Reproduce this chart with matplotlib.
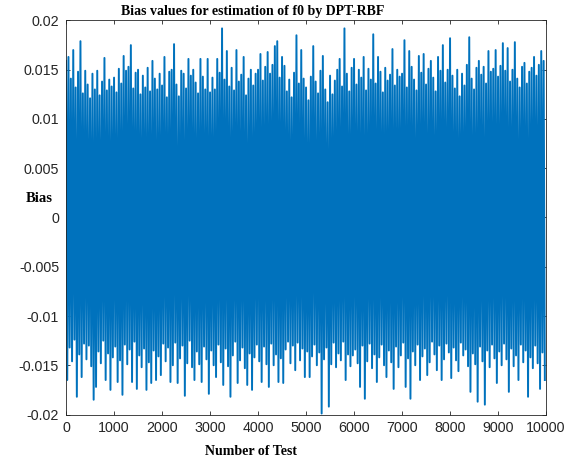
import numpy as np
import matplotlib
matplotlib.use("Agg")
import matplotlib.pyplot as plt

# -----------------------------------------------------
# Bias data (in units of 1e-3), sampled every 50 tests:
# positive swings and negative swings of the estimator
# -----------------------------------------------------

bias_high = [
    15.9, 16.3, 14.1, 17.0, 13.2, 14.8, 17.9, 12.6, 14.9, 13.5, 12.1, 14.6, 13.0, 14.9, 12.4, 13.8, 16.2, 12.9, 14.0, 13.3,
    14.2, 12.7, 15.1, 13.6, 16.4, 14.9, 15.3, 17.5, 13.1, 14.7, 15.0, 12.5, 14.4, 13.2, 15.2, 12.8, 15.9, 14.1, 13.0, 14.6,
    13.4, 16.3, 12.2, 14.8, 15.0, 17.6, 13.5, 12.3, 14.9, 14.6, 13.1, 16.1, 14.4, 15.0, 13.7, 12.6, 16.1, 14.3, 13.0, 16.1,
    12.7, 14.2, 13.0, 16.1, 14.7, 19.2, 14.0, 16.9, 13.3, 15.2, 12.9, 17.0, 13.8, 14.5, 16.3, 12.4, 14.1, 15.0, 13.4, 14.6,
    15.0, 16.6, 13.9, 15.3, 16.8, 14.6, 15.5, 17.4, 17.9, 14.2, 16.3, 15.4, 12.8, 14.0, 12.2, 14.7, 18.5, 13.6, 17.0, 14.1,
    13.2, 11.9, 14.3, 17.4, 13.8, 12.6, 14.9, 16.4, 13.0, 11.7, 14.4, 12.5, 13.9, 15.0, 16.1, 13.3, 19.2, 14.6, 12.8, 15.2,
    16.1, 13.5, 15.0, 14.2, 16.3, 12.9, 15.1, 14.0, 18.6, 13.6, 16.3, 14.8, 12.7, 15.2, 13.9, 14.5, 17.1, 13.4, 15.0, 14.3,
    14.6, 18.0, 13.2, 16.9, 15.3, 14.0, 12.9, 16.4, 14.7, 16.6, 13.5, 15.1, 15.9, 14.2, 12.8, 16.3, 14.9, 17.5, 13.7, 15.0,
    18.2, 14.4, 13.1, 15.0, 12.3, 14.6, 13.4, 15.5, 18.3, 14.1, 13.0, 15.2, 15.9, 14.5, 15.3, 13.6, 16.9, 14.8, 15.1, 17.0,
    14.3, 15.4, 17.7, 14.9, 17.2, 13.8, 15.0, 17.8, 14.1, 13.2, 15.3, 15.7, 13.6, 14.8, 15.2, 16.3, 14.4, 15.5, 16.9, 15.9,
]

bias_low = [
    -16.5, -13.2, -14.6, -12.4, -18.2, -13.9, -16.2, -12.8, -14.4, -13.0, -15.1, -18.5, -17.2, -13.6, -14.8, -12.5, -16.5, -13.8, -17.5, -14.2,
    -13.1, -16.7, -14.5, -18.0, -12.9, -14.9, -13.4, -16.7, -12.6, -17.4, -14.0, -15.2, -13.3, -17.5, -14.7, -16.8, -13.5, -16.5, -14.1, -16.0,
    -12.8, -14.6, -13.2, -16.7, -15.0, -12.7, -16.8, -14.3, -13.0, -18.1, -14.8, -12.5, -15.2, -16.5, -13.6, -14.9, -16.7, -13.1, -14.4, -17.9,
    -13.5, -15.0, -16.2, -12.9, -14.7, -17.0, -13.3, -15.1, -18.2, -14.0, -12.6, -16.8, -14.5, -13.2, -15.3, -17.0, -13.8, -17.5, -14.2, -12.9,
    -14.6, -16.7, -13.1, -14.9, -17.2, -12.8, -15.0, -13.9, -16.7, -14.3, -16.8, -13.4, -12.6, -14.8, -13.0, -15.5, -12.7, -14.5, -13.3, -16.2,
    -13.6, -16.2, -14.1, -12.9, -15.0, -13.7, -19.9, -14.4, -13.2, -19.2, -14.9, -12.7, -15.2, -13.8, -14.5, -12.6, -16.5, -13.9, -15.1, -14.0,
    -13.4, -14.8, -17.2, -13.0, -18.4, -14.6, -12.8, -15.3, -13.9, -16.7, -14.2, -12.9, -15.0, -16.2, -13.5, -14.7, -17.4, -13.1, -15.2, -14.0,
    -12.7, -17.2, -14.3, -18.4, -13.6, -15.0, -12.9, -16.5, -14.1, -13.3, -16.0, -14.7, -12.6, -13.9, -15.5, -13.0, -16.5, -14.4, -12.8, -13.7,
    -16.3, -13.2, -14.5, -15.6, -12.7, -14.0, -13.4, -15.1, -17.7, -13.8, -14.9, -18.7, -13.1, -14.6, -19.0, -13.5, -15.2, -12.9, -14.3, -16.8,
    -13.6, -15.0, -12.8, -14.4, -17.7, -13.3, -15.1, -14.0, -16.5, -12.9, -14.7, -13.5, -18.2, -14.2, -15.3, -13.0, -14.8, -17.4, -13.7, -16.5,
]

y_ticks = [-0.02, -0.015, -0.01, -0.005, 0, 0.005, 0.01, 0.015, 0.02]
y_tick_labels = ["-0.02", "-0.015", "-0.01", "-0.005", "0", "0.005", "0.01", "0.015", "0.02"]
x_ticks = list(range(0, 10001, 1000))

# interleave positive / negative swings along the test index
bias = np.empty(len(bias_high) * 2)
bias[0::2] = np.array(bias_high) / 1000
bias[1::2] = np.array(bias_low) / 1000
test_no = np.arange(1, 10001, 25)

# -----------------------------------------------------
# PLOT
# -----------------------------------------------------

fig = plt.figure(figsize=(5.78, 4.61), dpi=100)
ax = fig.add_axes([66 / 578, 1 - 414.5 / 461, 480 / 578, 394 / 461])

ax.plot(test_no, bias, color="#0072BD", linewidth=1.4)

ax.set_xlim(0, 10000)
ax.set_ylim(-0.02, 0.02)
ax.set_xticks(x_ticks)
ax.set_yticks(y_ticks)
ax.set_yticklabels(y_tick_labels)

ax.tick_params(direction="in", length=3, width=0.6, colors="#262626",
               top=True, right=True, labelsize=10.3, pad=5)
for lbl in ax.get_xticklabels() + ax.get_yticklabels():
    lbl.set_family("Liberation Sans")
for sp in ax.spines.values():
    sp.set_color("#262626")
    sp.set_linewidth(0.6)

fig.text(253 / 578, 1 - 11 / 461, "Bias values for estimation of f0 by DPT-RBF",
         ha="center", va="center", family="Liberation Serif", weight="bold", fontsize=10)
fig.text(251 / 578, 1 - 451 / 461, "Number of Test",
         ha="center", va="center", family="Liberation Serif", weight="bold", fontsize=10)
fig.text(39 / 578, 1 - 199 / 461, "Bias",
         ha="center", va="center", family="Liberation Serif", weight="bold", fontsize=10.5)

plt.savefig("out.png", dpi=100)
